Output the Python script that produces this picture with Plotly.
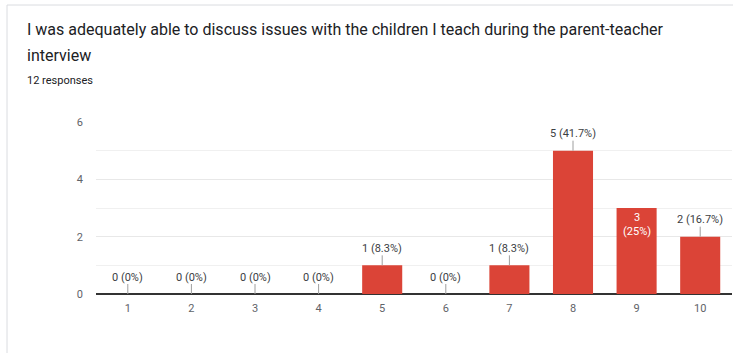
import plotly.graph_objects as go

title_line1 = "I was adequately able to discuss issues with the children I teach during the parent-teacher"
title_line2 = "interview"
subtitle = "12 responses"

categories = ["1", "2", "3", "4", "5", "6", "7", "8", "9", "10"]
counts = [0, 0, 0, 0, 1, 0, 1, 5, 3, 2]
percents = ["0%", "0%", "0%", "0%", "8.3%", "0%", "8.3%", "41.7%", "25%", "16.7%"]
inside_label = [False, False, False, False, False, False, False, False, True, False]

y_ticks = [0, 2, 4, 6]

BAR = "#db4437"
TXT = "#202124"
AX = "#5f6368"
FONT = "Roboto"

fig = go.Figure()
fig.add_trace(go.Bar(
    x=categories, y=counts, marker=dict(color=BAR, line=dict(width=0)),
    width=0.63, hoverinfo="skip",
))

annotations = []
for i, (c, n, p, inside) in enumerate(zip(categories, counts, percents, inside_label)):
    if inside:
        annotations.append(dict(
            x=i, y=n, xref="x", yref="y", text=f"{n}<br>({p})",
            showarrow=False, yanchor="top", yshift=-1,
            font=dict(family=FONT, size=11, color="white"),
        ))
    else:
        annotations.append(dict(
            x=i, y=n, xref="x", yref="y", text=f"{n} ({p})",
            showarrow=True, arrowhead=0, arrowwidth=1, arrowcolor="#9e9e9e",
            ax=0, ay=-17, standoff=0, borderpad=0,
            font=dict(family=FONT, size=11, color="#3c4043"),
        ))

W, H = 733, 353
ML, MR, MT, MB = 96, 1, 122, 59
def px(xp):
    return (xp - ML) / (W - ML - MR)
def py(yp):
    return (H - MB - yp) / (H - MT - MB)

annotations += [
    dict(text=title_line1, x=px(25), y=py(30), xref="paper", yref="paper",
         xanchor="left", yanchor="middle", showarrow=False,
         font=dict(family=FONT, size=16, color=TXT)),
    dict(text=title_line2, x=px(25), y=py(55), xref="paper", yref="paper",
         xanchor="left", yanchor="middle", showarrow=False,
         font=dict(family=FONT, size=16, color=TXT)),
    dict(text=subtitle, x=px(25), y=py(80), xref="paper", yref="paper",
         xanchor="left", yanchor="middle", showarrow=False,
         font=dict(family=FONT, size=11, color=TXT)),
]

shapes = [
    dict(type="line", xref="paper", yref="paper", x0=px(7), x1=px(7), y0=py(5), y1=py(H + 5),
         line=dict(color="#dadce0", width=1)),
    dict(type="line", xref="paper", yref="paper", x0=px(7), x1=px(W + 5), y0=py(5), y1=py(5),
         line=dict(color="#dadce0", width=1)),
]

fig.update_layout(
    width=W, height=H,
    margin=dict(l=ML, r=MR, t=MT, b=MB),
    paper_bgcolor="white", plot_bgcolor="white",
    showlegend=False,
    annotations=annotations,
    shapes=shapes,
    bargap=0.37,
    xaxis=dict(
        type="category", categoryorder="array", categoryarray=categories,
        showgrid=False, showline=False, zeroline=False, ticks="",
        ticklabelstandoff=6,
        tickfont=dict(family=FONT, size=11, color=AX),
        fixedrange=True,
    ),
    yaxis=dict(
        range=[0, 6], tickvals=y_ticks, showgrid=True, gridcolor="#e8e8e8",
        zeroline=True, zerolinecolor="#333333", zerolinewidth=1.5,
        showline=False, ticks="", ticklabelstandoff=12,
        tickfont=dict(family=FONT, size=11, color=AX),
        minor=dict(dtick=1, tick0=0, showgrid=True, gridcolor="#f0f0f0"),
        fixedrange=True,
    ),
)

fig.write_html("out.html", config={"displayModeBar": False})
